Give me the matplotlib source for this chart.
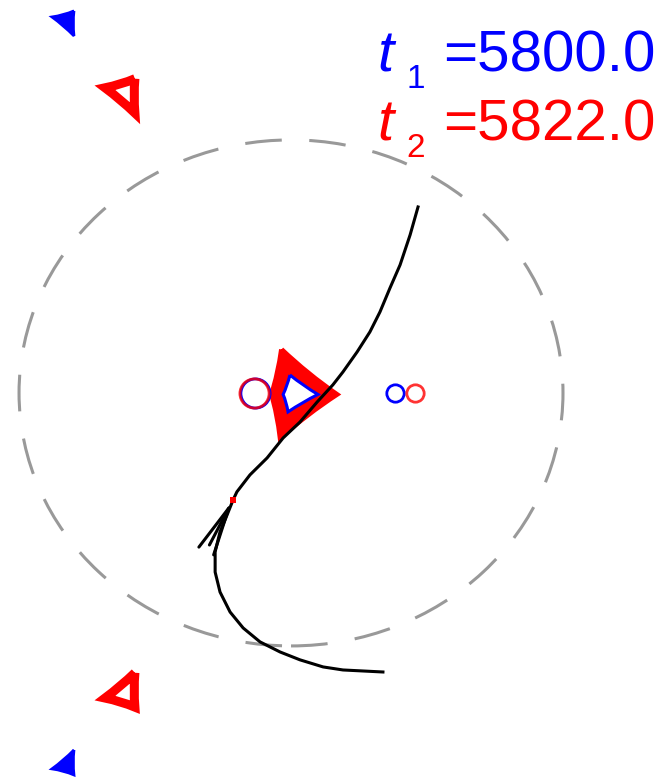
import numpy as np
import matplotlib
matplotlib.use("Agg")
import matplotlib.pyplot as plt
from matplotlib.path import Path
from matplotlib.patches import PathPatch, Ellipse, FancyArrowPatch

plt.rcParams['font.family'] = ['Liberation Sans', 'DejaVu Sans']

# epochs shown in the legend
t1 = 5800.0
t2 = 5822.0

# einstein ring radius (units of theta_E)
ring_radius = 1.0

# lens positions: (x, y, marker size)
lens_t1 = [(-0.132, 0.0, 21), (0.382, 0.0, 12.5)]
lens_t2 = [(-0.136, 0.0, 21), (0.456, 0.0, 12.5)]

# caustic cusps at t1 (blue) and t2 (red)
central_t1 = [(-0.004, 0.071), (0.099, -0.006), (-0.011, -0.075), (-0.029, -0.006)]
central_t2 = [(-0.035, 0.172), (0.169, -0.006), (-0.040, -0.178), (-0.072, -0.006)]
planet_t1_up = [(-0.798, 1.510), (-0.879, 1.486), (-0.798, 1.411)]
planet_t1_dn = [(-0.798, -1.411), (-0.879, -1.486), (-0.798, -1.510)]
planet_t2_up = [(-0.574, 1.242), (-0.684, 1.206), (-0.574, 1.106)]
planet_t2_dn = [(-0.574, -1.106), (-0.684, -1.206), (-0.574, -1.242)]

# source trajectory
traj_x = [0.467, 0.438, 0.401, 0.364, 0.327, 0.290, 0.243, 0.191, 0.154,
          0.096, 0.033, -0.029, -0.088, -0.151, -0.199, -0.213, -0.235,
          -0.261, -0.279, -0.279, -0.261, -0.224, -0.176, -0.114, -0.040,
          0.033, 0.118, 0.191, 0.338]
traj_y = [0.735, 0.625, 0.506, 0.415, 0.320, 0.241, 0.162, 0.083, 0.032,
          -0.036, -0.115, -0.178, -0.257, -0.324, -0.391, -0.423, -0.482,
          -0.549, -0.628, -0.708, -0.787, -0.866, -0.929, -0.984, -1.024,
          -1.055, -1.083, -1.095, -1.103]
# source position at t2 and direction of motion
src_x, src_y = -0.213, -0.423
arrow_tail = (-0.300, -0.601)


def caustic_path(cusps, bulge=0.7):
    """Closed path through the cusps with concave sides."""
    c = np.mean(np.array(cusps), axis=0)
    verts = [cusps[0]]
    codes = [Path.MOVETO]
    n = len(cusps)
    for i in range(n):
        a = np.array(cusps[i])
        b = np.array(cusps[(i + 1) % n])
        mid = 0.5 * (a + b)
        ctrl = c + bulge * (mid - c)
        verts += [tuple(ctrl), tuple(b)]
        codes += [Path.CURVE3, Path.CURVE3]
    return Path(verts, codes)


fig = plt.figure(figsize=(6.59, 7.78), dpi=100)
ax = fig.add_axes([0, 0, 1, 1])
ax.set_xlim(-1.070, 1.353)
ax.set_ylim(-1.522, 1.553)
ax.axis('off')

ring = Ellipse((0, 0), 2 * ring_radius, 2 * ring_radius, fill=False,
               edgecolor='#999999', lw=2.2, linestyle=(0, (12, 9)))
ax.add_patch(ring)

# central caustics
ax.add_patch(PathPatch(caustic_path(central_t2, 0.9), facecolor='red',
                       edgecolor='red', lw=3.5))
ax.add_patch(PathPatch(caustic_path(central_t1, 0.9), facecolor='white',
                       edgecolor='blue', lw=2.2))

# planetary caustics
for cus in (planet_t2_up, planet_t2_dn):
    ax.add_patch(PathPatch(caustic_path(cus, 0.85), facecolor='none',
                           edgecolor='red', lw=6.5))
for cus in (planet_t1_up, planet_t1_dn):
    ax.add_patch(PathPatch(caustic_path(cus, 0.8), facecolor='blue',
                           edgecolor='blue', lw=2.0))

# lenses
for x, y, s in lens_t1:
    ax.plot(x, y, 'o', ms=s, mfc='none', mec='blue', mew=2.0)
for x, y, s in lens_t2:
    ax.plot(x, y, 'o', ms=s, mfc='none', mec='red', mew=2.0, alpha=0.8)

# trajectory with direction arrow
ax.plot(traj_x, traj_y, color='black', lw=2.2, solid_joinstyle='round')
arrow = FancyArrowPatch(arrow_tail, (src_x, src_y),
                        arrowstyle='->,head_length=35,head_width=6',
                        mutation_scale=1, color='black', lw=2.2,
                        shrinkA=0, shrinkB=0)
ax.add_patch(arrow)
ax.plot(src_x, src_y, 's', color='red', ms=5, mew=0)

# epoch labels
for t, col, yb, ys, sub in ((t1, 'blue', 0.9075, 0.887, '1'),
                            (t2, 'red', 0.820, 0.798, '2')):
    ax.text(0.572, yb, 't', color=col, fontsize=42, fontstyle='italic',
            ha='left', va='baseline', transform=ax.transAxes)
    ax.text(0.617, ys, sub, color=col, fontsize=24,
            ha='left', va='baseline', transform=ax.transAxes)
    ax.text(0.994, yb, '=%.1f' % t, color=col, fontsize=42,
            ha='right', va='baseline', transform=ax.transAxes)

fig.savefig('out.png', dpi=100)
